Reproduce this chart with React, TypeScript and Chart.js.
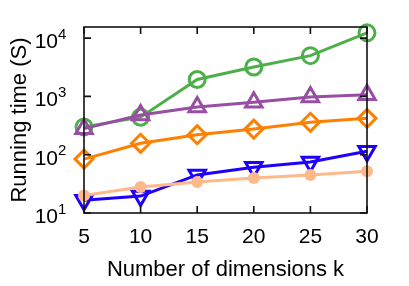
import { useEffect, useRef } from "react";
import { Chart, registerables } from "chart.js";

Chart.register(...registerables);

const dims = [5, 10, 15, 20, 25, 30];
const xTicks = [5, 10, 15, 20, 25, 30];
const yTicks = [10, 100, 1000, 10000];
const yTickExp = ["1", "2", "3", "4"];
const xTitle = "Number of dimensions k";
const yTitle = "Running time (S)";

const greenVals = [300, 440, 1950, 3200, 5000, 12300];
const purpleVals = [280, 480, 660, 790, 980, 1070];
const orangeVals = [84, 157, 220, 275, 360, 420];
const blueVals = [16.5, 19.5, 45, 61, 75, 115];
const peachVals = [20, 28, 34, 40, 45, 52];

const FONT = '"Liberation Sans", Arial, Helvetica, sans-serif';

export default function App() {
  const ref = useRef<HTMLCanvasElement>(null);

  useEffect(() => {
    if (!ref.current) return;
    const framePlugin = {
      id: "frame",
      afterDraw(chart: any) {
        const { ctx, chartArea: a, scales } = chart;
        const xs = scales.x;
        const ys = scales.y;
        ctx.save();
        ctx.strokeStyle = "#111";
        ctx.lineWidth = 1.6;
        ctx.strokeRect(a.left, a.top, a.right - a.left, a.bottom - a.top);
        const tl = 7;
        ctx.beginPath();
        xTicks.forEach((v) => {
          const px = xs.getPixelForValue(v);
          ctx.moveTo(px, a.bottom);
          ctx.lineTo(px, a.bottom - tl);
          ctx.moveTo(px, a.top);
          ctx.lineTo(px, a.top + tl);
        });
        yTicks.forEach((v) => {
          const py = ys.getPixelForValue(v);
          ctx.moveTo(a.left, py);
          ctx.lineTo(a.left + tl, py);
          ctx.moveTo(a.right, py);
          ctx.lineTo(a.right - tl, py);
        });
        ctx.stroke();

        ctx.fillStyle = "#000";
        ctx.textBaseline = "alphabetic";
        ctx.font = `21px ${FONT}`;
        ctx.textAlign = "center";
        xTicks.forEach((v) => {
          ctx.fillText(String(v), xs.getPixelForValue(v), a.bottom + 30);
        });
        yTicks.forEach((v, i) => {
          const py = ys.getPixelForValue(v);
          ctx.font = `21px ${FONT}`;
          ctx.textAlign = "right";
          ctx.fillText("10", a.left - 26, py + 10);
          ctx.font = `15px ${FONT}`;
          ctx.textAlign = "left";
          ctx.fillText(yTickExp[i], a.left - 26, py + 0.5);
        });

        ctx.font = `22px ${FONT}`;
        ctx.textAlign = "center";
        ctx.fillText(xTitle, (a.left + a.right) / 2, a.bottom + 63);
        ctx.save();
        ctx.translate(26, (a.top + a.bottom) / 2);
        ctx.rotate(-Math.PI / 2);
        ctx.fillText(yTitle, 0, 0);
        ctx.restore();
        ctx.restore();
      },
    };

    const mk = (vals: number[]) => dims.map((k, i) => ({ x: k, y: vals[i] }));

    const chart = new Chart(ref.current, {
      type: "line",
      data: {
        datasets: [
          {
            label: "peach",
            data: mk(peachVals),
            borderColor: "rgb(253,185,138)",
            backgroundColor: "rgb(253,185,138)",
            pointStyle: "circle",
            pointRadius: 6,
            pointBorderWidth: 0,
            borderWidth: 3,
            clip: false,
          },
          {
            label: "blue",
            data: mk(blueVals),
            borderColor: "rgb(30,0,255)",
            backgroundColor: "rgba(0,0,0,0)",
            pointStyle: "triangle",
            rotation: 180,
            pointRadius: 9.5,
            pointBorderWidth: 3,
            borderWidth: 3,
            clip: false,
          },
          {
            label: "orange",
            data: mk(orangeVals),
            borderColor: "rgb(255,127,0)",
            backgroundColor: "rgba(0,0,0,0)",
            pointStyle: "rectRot",
            pointRadius: 9,
            pointBorderWidth: 3,
            borderWidth: 3,
            clip: false,
          },
          {
            label: "purple",
            data: mk(purpleVals),
            borderColor: "rgb(152,78,163)",
            backgroundColor: "rgba(0,0,0,0)",
            pointStyle: "triangle",
            pointRadius: 9.5,
            pointBorderWidth: 3,
            borderWidth: 3,
            clip: false,
          },
          {
            label: "green",
            data: mk(greenVals),
            borderColor: "rgb(77,175,74)",
            backgroundColor: "rgba(0,0,0,0)",
            pointStyle: "circle",
            pointRadius: 8,
            pointBorderWidth: 3,
            borderWidth: 3,
            clip: false,
          },
        ],
      },
      options: {
        responsive: false,
        animation: false,
        layout: { padding: { top: 27, right: 42, left: 0, bottom: 0 } },
        plugins: { legend: { display: false }, tooltip: { enabled: false } },
        elements: { line: { tension: 0 } },
        scales: {
          x: {
            type: "linear",
            min: 5,
            max: 30,
            ticks: { display: false },
            grid: { display: false },
            border: { display: false },
            afterFit: (s: any) => {
              s.height = 73;
            },
          },
          y: {
            type: "logarithmic",
            min: 10,
            max: 15500,
            ticks: { display: false },
            grid: { display: false },
            border: { display: false },
            afterFit: (s: any) => {
              s.width = 84;
            },
          },
        },
      },
      plugins: [framePlugin],
    });
    return () => chart.destroy();
  }, []);

  return (
    <div style={{ position: "absolute", left: 0, top: 0, width: 409, height: 286 }}>
      <canvas ref={ref} width={409} height={286} style={{ display: "block" }} />
    </div>
  );
}
